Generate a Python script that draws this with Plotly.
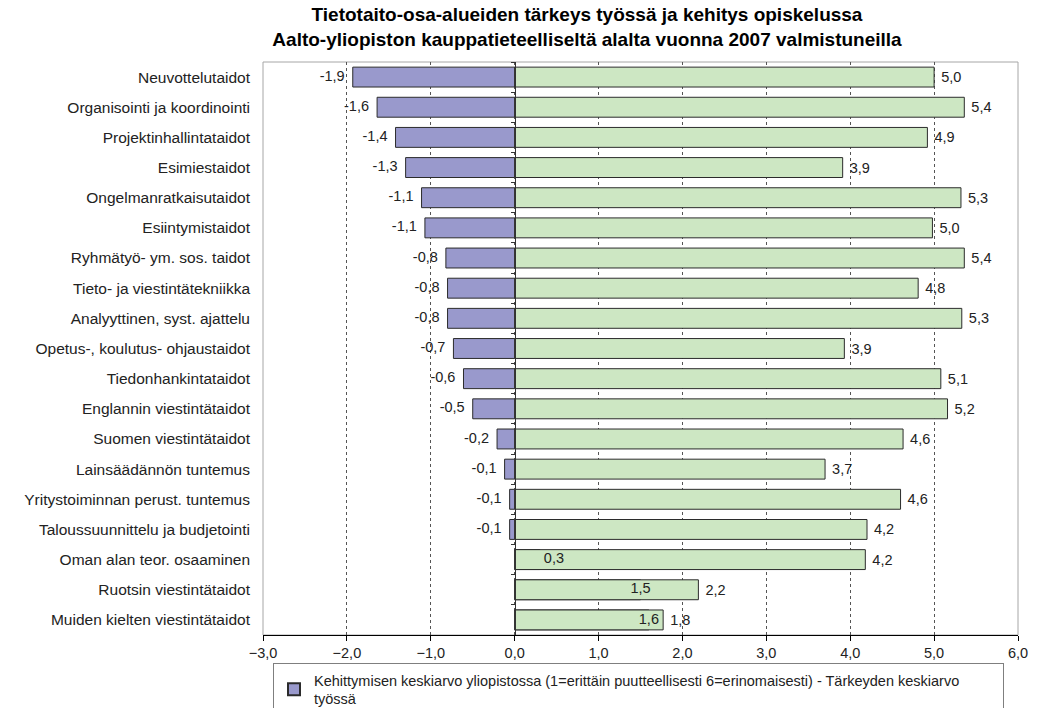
import plotly.graph_objects as go

categories = [
    "Neuvottelutaidot",
    "Organisointi ja koordinointi",
    "Projektinhallintataidot",
    "Esimiestaidot",
    "Ongelmanratkaisutaidot",
    "Esiintymistaidot",
    "Ryhmätyö- ym. sos. taidot",
    "Tieto- ja viestintätekniikka",
    "Analyyttinen, syst. ajattelu",
    "Opetus-, koulutus- ohjaustaidot",
    "Tiedonhankintataidot",
    "Englannin viestintätaidot",
    "Suomen viestintätaidot",
    "Lainsäädännön tuntemus",
    "Yritystoiminnan perust. tuntemus",
    "Taloussuunnittelu ja budjetointi",
    "Oman alan teor. osaaminen",
    "Ruotsin viestintätaidot",
    "Muiden kielten viestintätaidot",
]

# Kehittymisen keskiarvo - Tärkeyden keskiarvo (difference)
difference = [-1.93, -1.64, -1.42, -1.30, -1.11, -1.07, -0.82, -0.80, -0.80,
              -0.73, -0.61, -0.50, -0.21, -0.12, -0.06, -0.06, 0.30, 1.50, 1.60]

# Tärkeyden keskiarvo työssä (importance)
importance = [5.00, 5.36, 4.92, 3.91, 5.32, 4.98, 5.36, 4.81, 5.33,
              3.93, 5.08, 5.16, 4.63, 3.70, 4.60, 4.20, 4.18, 2.19, 1.77]

diff_label_pos = ["middle left"] * 16 + ["middle right", "middle center", "middle center"]

legend_name = ("Kehittymisen keskiarvo yliopistossa (1=erittäin puutteellisesti "
               "6=erinomaisesti) - Tärkeyden keskiarvo<br>työssä")

FONT = "Arial, 'Liberation Sans', sans-serif"
PURPLE = "#9999CC"
GREEN = "#CDE7C3"
OUTLINE = "#2b2b2b"
NB = "\u00a0"

n = len(categories)


def diff_text(v, pos):
    s = f"{v:.1f}".replace(".", ",")
    if pos == "middle left":
        return s + NB + NB
    if pos == "middle right":
        return NB + s
    return s


fig = go.Figure()

fig.add_trace(go.Bar(
    y=categories, x=difference, orientation="h",
    marker=dict(color=PURPLE, line=dict(color=OUTLINE, width=1)),
    name=legend_name, showlegend=True, hoverinfo="x+y",
))

fig.add_trace(go.Bar(
    y=categories, x=importance, orientation="h",
    marker=dict(color=GREEN, line=dict(color=OUTLINE, width=1)),
    text=importance, texttemplate=NB + "%{x:.1f}", textposition="outside",
    textfont=dict(family=FONT, size=14.5, color="#222222"),
    cliponaxis=False, constraintext="none",
    name="Tärkeyden keskiarvo työssä", showlegend=False, hoverinfo="x+y",
))

# labels of the difference series, drawn on top of the bars
fig.add_trace(go.Scatter(
    y=categories, x=difference, mode="text", yaxis="y2",
    text=[diff_text(v, p) for v, p in zip(difference, diff_label_pos)],
    textposition=diff_label_pos,
    textfont=dict(family=FONT, size=14.5, color="#222222"),
    showlegend=False, hoverinfo="skip", cliponaxis=False,
))

fig.update_layout(
    width=1039, height=708,
    margin=dict(l=263, r=21, t=62, b=73, autoexpand=False),
    paper_bgcolor="white", plot_bgcolor="white",
    separators=", ",
    barmode="overlay", bargap=0.34,
    font=dict(family=FONT, size=14.5, color="#222222"),
    title=dict(
        text="<b>Tietotaito-osa-alueiden tärkeys työssä ja kehitys opiskelussa<br>"
             "Aalto-yliopiston kauppatieteelliseltä alalta vuonna 2007 valmistuneilla</b>",
        x=587 / 1039, xanchor="center", xref="container",
        y=1 - 21 / 708, yanchor="top", yref="container",
        font=dict(family=FONT, size=19, color="#000000"),
    ),
    xaxis=dict(
        range=[-3, 6], dtick=1, tick0=0, tickformat=".1f",
        showgrid=True, gridcolor="#555555", griddash="dot", gridwidth=1,
        zeroline=False, automargin=False,
        showline=True, linecolor="#000000", linewidth=1,
        ticks="outside", ticklen=5, tickcolor="#000000",
        tickfont=dict(family=FONT, size=14.5, color="#222222"),
        mirror=False,
    ),
    yaxis=dict(
        type="category", categoryorder="array", categoryarray=categories,
        range=[n - 0.5, -0.5], automargin=False,
        showgrid=False, zeroline=False, showline=False, ticks="",
        tickfont=dict(family=FONT, size=15.5, color="#222222"),
        ticklabelstandoff=12,
    ),
    yaxis2=dict(
        type="category", categoryorder="array", categoryarray=categories,
        range=[n - 0.5, -0.5], automargin=False,
        overlaying="y", anchor="free", position=1 / 3, side="left",
        showgrid=False, zeroline=False,
        showline=True, linecolor="#333333", linewidth=1,
        ticks="outside", ticklen=4, tickcolor="#333333", tickson="boundaries",
        showticklabels=False,
    ),
    legend=dict(
        orientation="h", xref="container", x=273 / 1039, xanchor="left",
        yref="container", y=1 - 663 / 708, yanchor="top",
        bordercolor="#7f7f7f", borderwidth=1, bgcolor="white",
        font=dict(family=FONT, size=14.5, color="#222222"),
        entrywidth=684, itemsizing="constant",
    ),
    shapes=[dict(
        type="rect", xref="paper", yref="paper", x0=0, x1=1, y0=0, y1=1,
        line=dict(color="#A6A6A6", width=1), layer="below",
    )],
)

fig.write_html("out.html", config={"displayModeBar": False},
               post_script="document.body.style.margin='0';")
